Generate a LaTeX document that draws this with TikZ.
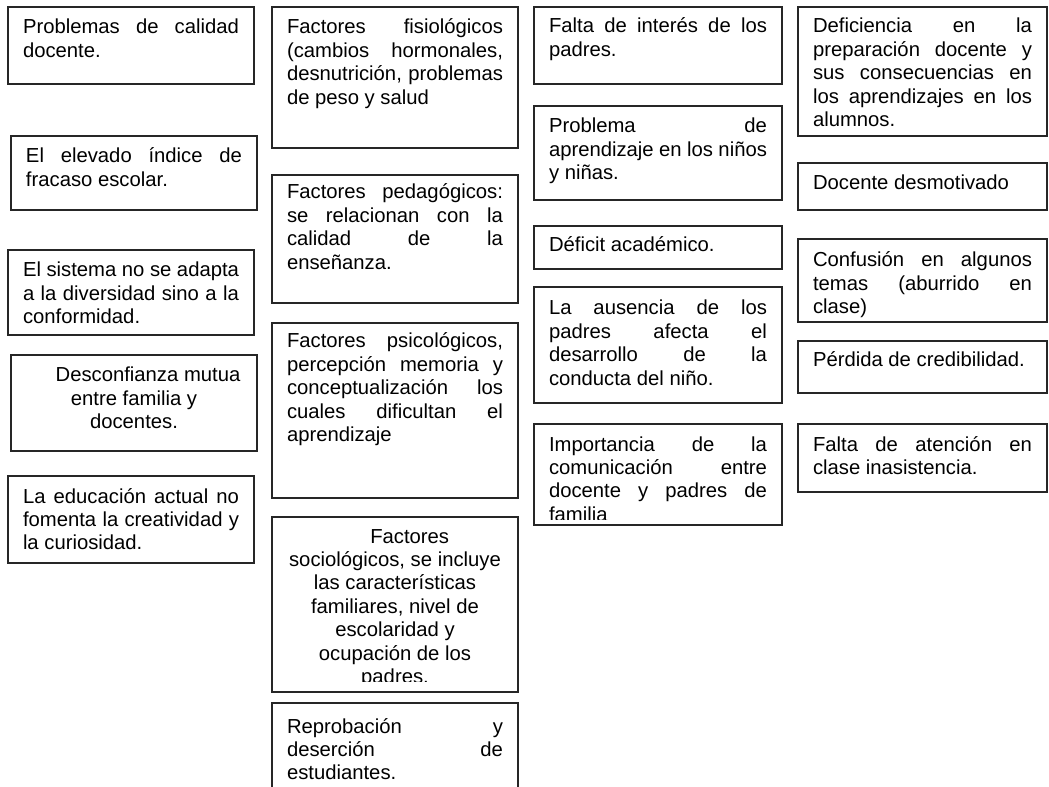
\documentclass[tikz,border=0pt]{standalone}
\usepackage{fontspec}
\setmainfont{Liberation Sans}
\newlength\pxu \setlength\pxu{0.75pt}
\newcommand{\fl}[1][27]{\rule{0pt}{#1\pxu}}
\newcommand{\btxt}[4][11.25pt]{\parbox[c][#3\pxu][t]{\dimexpr#2\pxu-#1-#1\relax}{\fontsize{15.2pt}{17.6pt}\selectfont\tolerance=10000\hyphenpenalty=10000\emergencystretch=5pt #4}}
\tikzset{
  box/.style={draw=black!85, line width=0.8pt, anchor=north west, inner xsep=11.25pt, inner ysep=0pt, outer sep=0pt},
  frame/.style={box, inner sep=0pt},
  textonly/.style={box, draw=none}
}
\begin{document}
\begin{tikzpicture}[x=0.75pt, y=-0.75pt]
\useasboundingbox (0,0) rectangle (1049,787);
% column 1
\node[box] (b1) at (8,7) {\btxt{246}{77}{\fl Problemas de calidad\linebreak docente.}};
\node[box] (b2) at (11,136) {\btxt{246}{74}{\fl El elevado índice de\linebreak fracaso escolar.}};
\node[box] (b3) at (8,250) {\btxt{246}{85}{\fl El sistema no se adapta\linebreak a la diversidad sino a la\linebreak conformidad.}};
\node[box] (b4) at (11,355) {\btxt{246}{96}{\centering\hspace*{21pt}\fl Desconfianza mutua\\ entre familia y\\ docentes.\par}};
\node[box] (b5) at (8,476) {\btxt{246}{87}{\fl La educación actual no\linebreak fomenta la creatividad y\linebreak la curiosidad.}};
% column 2
\node[box] (b6) at (272,7) {\btxt{246}{141}{\fl Factores fisiológicos\linebreak (cambios hormonales,\linebreak desnutrición, problemas\linebreak de peso y salud}};
\node[box] (b7) at (272,175) {\btxt{246}{128}{\fl[24]Factores pedagógicos:\linebreak se relacionan con la\linebreak calidad de la\linebreak enseñanza.}};
\node[box] (b8) at (272,323) {\btxt{246}{175}{\fl[25]Factores psicológicos,\linebreak percepción memoria y\linebreak conceptualización los\linebreak cuales dificultan el\linebreak aprendizaje}};
\node[frame, minimum width=184.5pt, minimum height=131.25pt] (b9) at (272,517) {};
\begin{scope}
\clip (272,517) rectangle (518,681);
\node[textonly] (t9) at (272,517) {\btxt{246}{175}{\centering\hspace*{22pt}\fl[26]Factores\\ sociológicos, se incluye\\ las características\\ familiares, nivel de\\ escolaridad y\\ ocupación de los\\ padres.\par}};
\end{scope}
\node[box] (b10) at (272,703) {\btxt{246}{120}{\fl[30]Reprobación y\linebreak deserción de\linebreak estudiantes.}};
% column 3
\node[box] (b11) at (534,7) {\btxt{248}{77}{\fl[26]Falta de interés de los\linebreak padres.}};
\node[box] (b12) at (534,106) {\btxt{248}{94}{\fl Problema de\linebreak aprendizaje en los niños\linebreak y niñas.}};
\node[box] (b13) at (534,226) {\btxt{248}{43}{\fl[26]Déficit académico.}};
\node[box] (b14) at (534,287) {\btxt{248}{116}{\fl[28]La ausencia de los\linebreak padres afecta el\linebreak desarrollo de la\linebreak conducta del niño.}};
\node[frame, minimum width=186pt, minimum height=75.75pt] (b15) at (534,424) {};
\begin{scope}
\clip (534,424) rectangle (782,519);
\node[textonly] (t15) at (534,424) {\btxt{248}{101}{\fl Importancia de la\linebreak comunicación entre\linebreak docente y padres de\linebreak familia}};
\end{scope}
% column 4
\node[box] (b16) at (798,7) {\btxt{249}{129}{\fl[26]Deficiencia en la\linebreak preparación docente y\linebreak sus consecuencias en\linebreak los aprendizajes en los\linebreak alumnos.}};
\node[box] (b17) at (798,163) {\btxt{249}{47}{\fl Docente desmotivado}};
\node[box] (b18) at (798,239) {\btxt{249}{83}{\fl[28]Confusión en algunos\linebreak temas (aburrido en\linebreak clase)}};
\node[box] (b19) at (798,341) {\btxt{249}{52}{\fl[26]Pérdida de credibilidad.}};
\node[box] (b20) at (798,424) {\btxt{249}{68}{\fl Falta de atención en\linebreak clase inasistencia.}};
\end{tikzpicture}
\end{document}
